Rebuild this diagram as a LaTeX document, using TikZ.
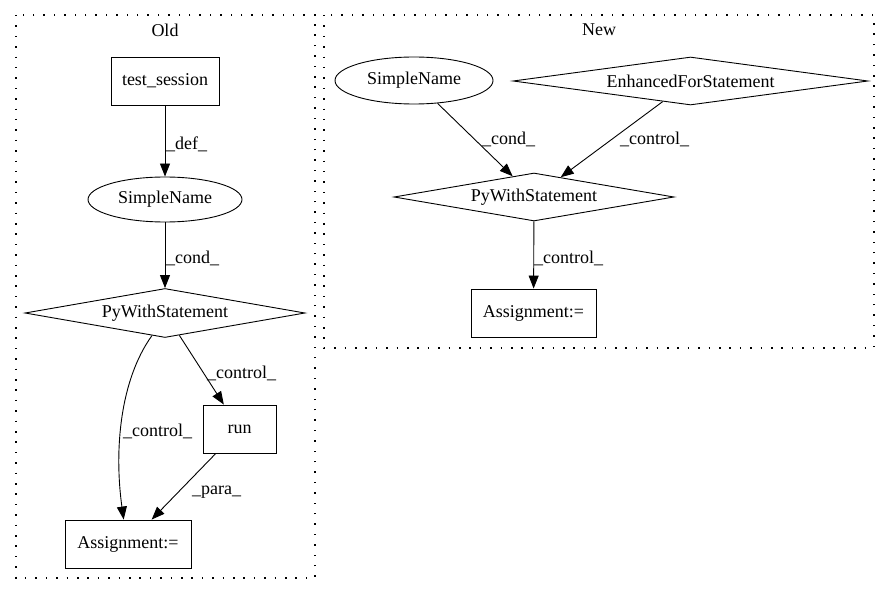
\documentclass[tikz,border=0pt]{standalone}
\usepackage{fontspec}
\setmainfont{Liberation Serif}
\usetikzlibrary{shapes.geometric,arrows.meta}
\begin{document}
\begin{tikzpicture}[x=1pt,y=-1pt,
  every node/.style={font=\fontsize{18}{21}\selectfont},
  box/.style={draw,line width=0.9pt,rectangle,inner sep=0pt},
  ell/.style={draw,line width=0.9pt,ellipse,inner sep=0pt},
  dia/.style={draw,line width=0.9pt,diamond,aspect=5.8,inner sep=0pt},
  edge/.style={line width=0.9pt,-{Triangle[length=13pt,width=10pt]}},
  lbl/.style={anchor=base west,inner sep=0pt},
  cluster/.style={line width=1.1pt,dash pattern=on 1.5pt off 8.9pt}]
\useasboundingbox (0,0) rectangle (891,596);
% clusters
\draw[cluster] (16,15) rectangle (315,578);
\draw[cluster] (324,15) rectangle (874,348);
\node (told) at (165,30) {Old};
\node (tnew) at (599,30) {New};
% Old
\node[box,minimum width=108pt,minimum height=48pt] (ts) at (165,81) {test\_session};
\node[ell,minimum width=154pt,minimum height=45pt] (sn1) at (165,199.5) {SimpleName};
\node[dia,minimum width=280pt,minimum height=49pt] (pw1) at (165,313) {PyWithStatement};
\node[box,minimum width=73pt,minimum height=48pt] (run) at (239.5,429) {run};
\node[box,minimum width=126pt,minimum height=48pt] (as1) at (128,544) {Assignment:=};
\draw[edge] (ts) -- (sn1);
\draw[edge] (sn1) -- (pw1);
\draw[edge] (pw1) -- (run);
\draw[edge] (run) -- (as1);
\draw[edge] (pw1.-120) .. controls (120,380) and (114,450) .. (as1.100);
\node[lbl] (l1) at (166,150) {\_def\_};
\node[lbl] (l2) at (166,263) {\_cond\_};
\node[lbl] (l3) at (207,378) {\_control\_};
\node[lbl] (l4) at (123,436) {\_control\_};
\node[lbl] (l5) at (192,494) {\_para\_};
% New
\node[ell,minimum width=158pt,minimum height=47pt] (sn2) at (414,80.5) {SimpleName};
\node[dia,minimum width=355pt,minimum height=48pt] (ef) at (690.5,81) {EnhancedForStatement};
\node[dia,minimum width=280pt,minimum height=48pt] (pw2) at (534,197) {PyWithStatement};
\node[box,minimum width=125pt,minimum height=48pt] (as2) at (533.5,313) {Assignment:=};
\draw[edge] (sn2) -- (pw2);
\draw[edge] (ef) -- (pw2);
\draw[edge] (pw2) -- (as2);
\node[lbl] (l6) at (482,145) {\_cond\_};
\node[lbl] (l7) at (620,145) {\_control\_};
\node[lbl] (l8) at (534,263) {\_control\_};
\end{tikzpicture}
\end{document}
